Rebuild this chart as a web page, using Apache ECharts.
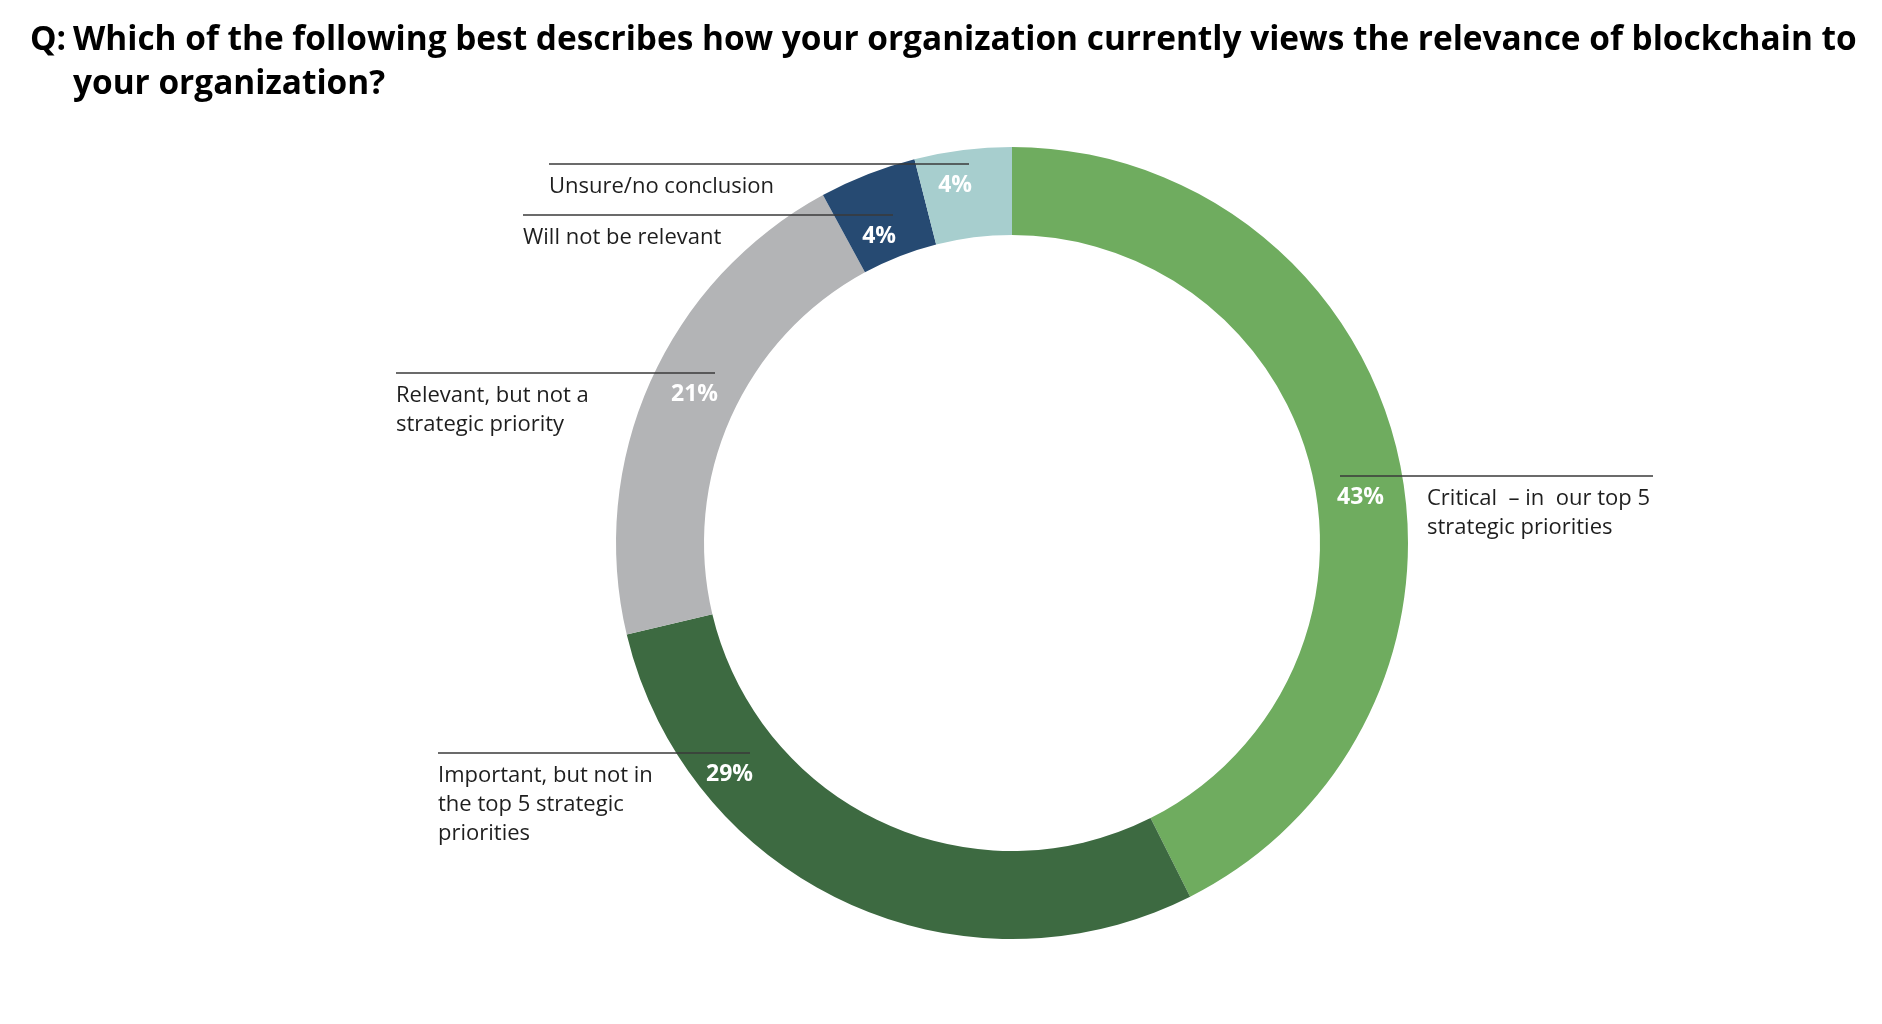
<!DOCTYPE html>
<html><head><meta charset="utf-8">
<script src="https://cdn.jsdelivr.net/npm/echarts@6/dist/echarts.min.js"></script>
<style>html,body{margin:0;padding:0;background:#fff}#c{width:1882px;height:1024px}</style>
</head><body><div id="c"></div>
<script>
const titleQ = 'Q:';
const titleText = 'Which of the following best describes how your organization currently views the relevance of blockchain to\nyour organization?';
const categories = [
  'Critical  – in  our top 5\nstrategic priorities',
  'Important, but not in\nthe top 5 strategic\npriorities',
  'Relevant, but not a\nstrategic priority',
  'Will not be relevant',
  'Unsure/no conclusion'
];
const values = [43, 29, 21, 4, 4];
const colors = ['#6fac5f', '#3d6a41', '#b3b4b6', '#264a72', '#a7cece'];

// layout of the label guide lines: [dx start, dx end, dy] relative to the pie centre
const guides = [[328, 641, -67], [-574, -262, 210], [-616, -297, -170], [-489, -119, -328], [-463, -43, -379]];
const CX = 1012, CY = 543;

const chart = echarts.init(document.getElementById('c'));
const data = categories.map((n, i) => ({ name: n, value: values[i] }));
const font = 'Open Sans';

chart.setOption({
  animation: false,
  color: colors,
  title: [
    { text: titleQ, left: 25, top: 13, textStyle: { fontFamily: font, fontWeight: 'bold', fontSize: 33.4, lineHeight: 44, color: '#000' } },
    { text: titleText, left: 68, top: 13, textStyle: { fontFamily: font, fontWeight: 'bold', fontSize: 33.4, lineHeight: 44, color: '#000' } }
  ],
  series: [
    {
      type: 'pie', center: [CX, CY], radius: [308, 396], startAngle: 90, clockwise: true, z: 2,
      silent: true, avoidLabelOverlap: false, data: data,
      label: { show: true, position: 'outside', formatter: p => p.value + '%', color: '#fff', fontFamily: font, fontWeight: 'bold', fontSize: 23 },
      labelLine: { show: false },
      labelLayout: p => {
        const g = guides[p.dataIndex];
        const onRight = g[0] > 0;
        return {
          x: onRight ? CX + g[0] - 3 : CX + g[1] + 3,
          y: CY + g[2] + 21,
          align: onRight ? 'left' : 'right',
          verticalAlign: 'middle'
        };
      }
    },
    {
      type: 'pie', center: [CX, CY], radius: [308, 396], startAngle: 90, clockwise: true, z: 5,
      silent: true, avoidLabelOverlap: false, data: data,
      itemStyle: { color: 'rgba(0,0,0,0)' },
      label: { show: true, position: 'outside', formatter: p => p.name, color: '#1e1e1e', fontFamily: font, fontSize: 22, lineHeight: 29 },
      labelLine: { show: true, length: 5, length2: 5, lineStyle: { color: '#3a3a3a', width: 1.5 } },
      labelLayout: p => {
        const g = guides[p.dataIndex];
        const onRight = g[0] > 0;
        const y = CY + g[2];
        return {
          x: onRight ? CX + g[0] + 87 : CX + g[0],
          y: y + 8.5,
          align: 'left',
          verticalAlign: 'top',
          labelLinePoints: [[CX + g[0], y], [CX + (g[0] + g[1]) / 2, y], [CX + g[1], y]]
        };
      }
    }
  ]
});
</script></body></html>
